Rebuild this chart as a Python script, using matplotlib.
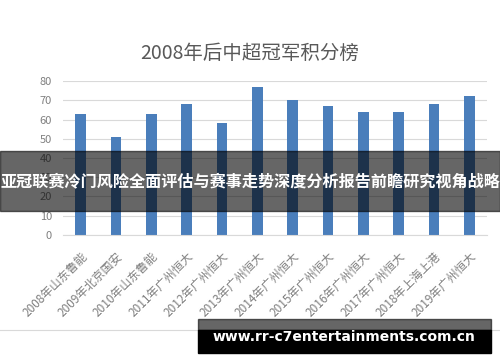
import matplotlib
matplotlib.use('agg')
import matplotlib.pyplot as plt
from matplotlib.patches import Rectangle

plt.rcParams['font.family'] = ['Noto Sans CJK SC', 'DejaVu Sans']

# champions and their points
teams = ['2008年山东鲁能', '2009年北京国安', '2010年山东鲁能', '2011年广州恒大',
         '2012年广州恒大', '2013年广州恒大', '2014年广州恒大', '2015年广州恒大',
         '2016年广州恒大', '2017年广州恒大', '2018年上海上港', '2019年广州恒大']
points = [63, 51, 63, 68, 58, 77, 70, 67, 64, 64, 68, 72]
yticks = [0, 10, 20, 30, 40, 50, 60, 70, 80]

title = '2008年后中超冠军积分榜'
banner = '亚冠联赛冷门风险全面评估与赛事走势深度分析报告前瞻研究视角战略'
site = 'www.rr-c7entertainments.com.cn'

fig = plt.figure(figsize=(5, 3.62), dpi=100)
ax = fig.add_axes([0.126, 0.351, 0.848, 0.425])

x = range(len(teams))
ax.bar(x, points, width=0.3, color='#4a7ebb', zorder=2)
ax.set_xlim(-0.5, len(teams) - 0.5)
ax.set_ylim(0, 80)
ax.set_yticks(yticks)
ax.set_xticks(list(x))
ax.set_xticklabels(teams, rotation=45, ha='right', rotation_mode='anchor',
                   fontsize=8.5, color='#7f7f7f')
ax.tick_params(axis='y', labelsize=8, labelcolor='#7f7f7f', length=0, pad=8)
ax.tick_params(axis='x', length=0, pad=11)
ax.grid(axis='y', color='#d9d9d9', linewidth=0.8, zorder=0)
for s in ['top', 'right', 'left']:
    ax.spines[s].set_visible(False)
ax.spines['bottom'].set_color('#d9d9d9')

fig.text(0.5, 0.852, title, ha='center', va='center', fontsize=14, color='#595959')

# overlays
fig.add_artist(Rectangle((0, 0.417), 1, 0.166, transform=fig.transFigure,
                         color='black', alpha=0.6, zorder=5))
fig.text(0.5, 0.5, banner, ha='center', va='center', fontsize=11.6,
         fontweight='bold', color='white', zorder=6)

fig.add_artist(plt.Line2D([0, 1], [0.088, 0.088], transform=fig.transFigure,
                          color='#d9d9d9', linewidth=0.8))
fig.add_artist(Rectangle((0.396, 0.088), 0.586, 0.031, transform=fig.transFigure,
                         color='black', alpha=0.6, zorder=5))
fig.add_artist(Rectangle((0.396, 0.025), 0.586, 0.063, transform=fig.transFigure,
                         color='black', zorder=5))
fig.text(0.687, 0.07, site, ha='center', va='center', fontsize=10,
         fontweight='bold', color='white', family='DejaVu Sans', zorder=6)

fig.savefig('out.png', dpi=100)
